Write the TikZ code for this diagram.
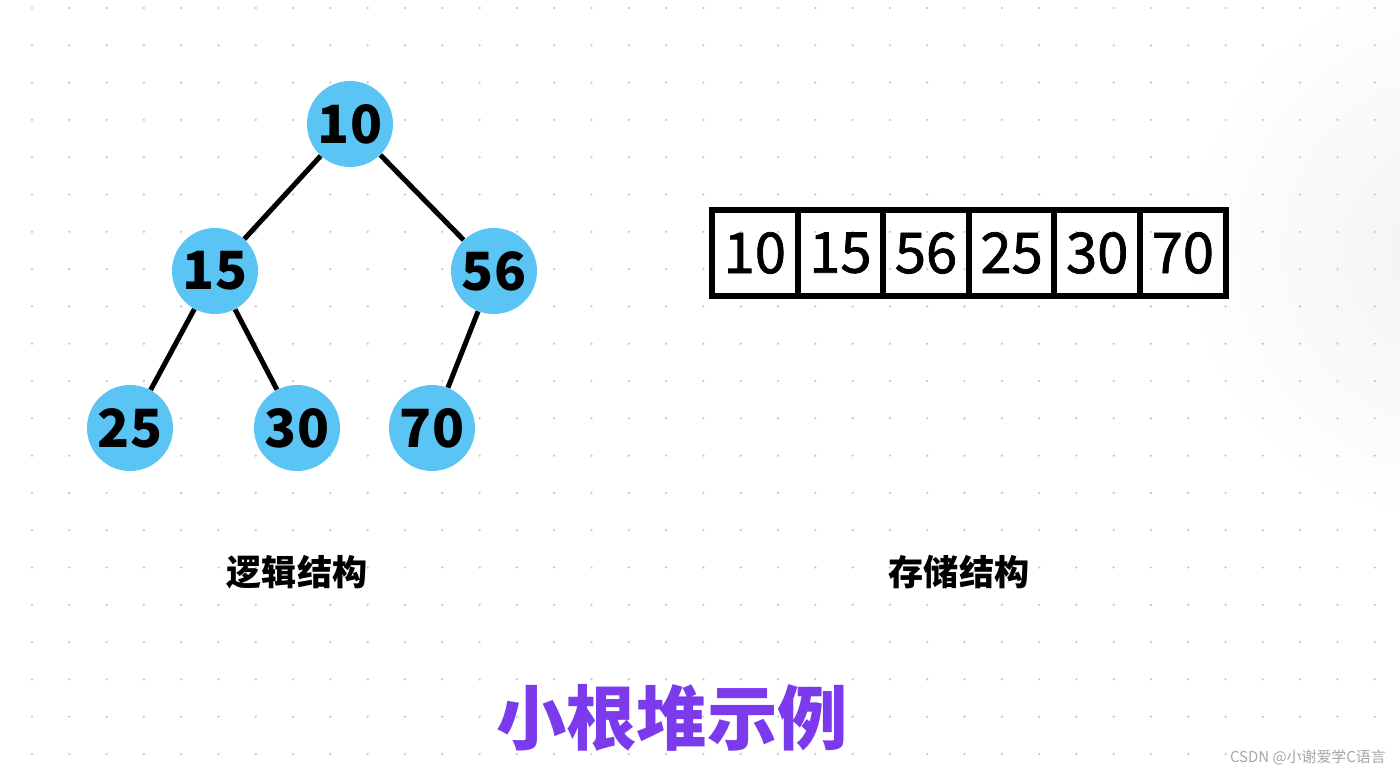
\documentclass[tikz,border=0pt]{standalone}
\usepackage{fontspec}
\setmainfont{Noto Sans CJK SC}
\newfontfamily\midfont[FakeBold=1.3]{Noto Sans CJK SC}
\usetikzlibrary{positioning}
\definecolor{heapblue}{RGB}{90,196,245}
\definecolor{titlepurple}{RGB}{124,58,237}
\tikzset{
  heapnode/.style={circle,fill=heapblue,minimum size=1.72cm,inner sep=0pt,font=\bfseries\fontsize{30}{30}\selectfont},
  heapedge/.style={line width=0.1cm},
  cell/.style={draw,line width=0.12cm,minimum width=1.712cm,minimum height=1.72cm,inner sep=0pt,font=\midfont\fontsize{32}{32}\selectfont},
  caption/.style={font=\bfseries\fontsize{20}{20}\selectfont}
}
\begin{document}
\begin{tikzpicture}[x=0.02cm,y=-0.02cm]
\useasboundingbox[fill=white] (0,0) rectangle (1400,773);
\begin{scope}
  \clip (0,0) rectangle (1400,773);
  \shade[inner color=black!5,outer color=white] (1460,250) circle (280);
\end{scope}
\foreach \i in {0,...,36}
  \foreach \j in {0,...,20}
    \fill[gray!45] (32+37.3*\i,8+37.3*\j) circle (0.7pt);
% logical structure
\node[heapnode] (n10) at (350,124) {10};
\node[heapnode] (n15) at (215,271) {15};
\node[heapnode] (n56) at (494,271) {56};
\node[heapnode] (n25) at (130,428) {25};
\node[heapnode] (n30) at (297,428) {30};
\node[heapnode] (n70) at (432,428) {70};
\draw[heapedge] (n10)--(n15) (n10)--(n56) (n15)--(n25) (n15)--(n30) (n56)--(n70);
% storage structure
\foreach \v [count=\k from 0] in {10,15,56,25,30,70}
  \node[cell] (a\k) at (754.8+85.6*\k,253) {\v};
\node[caption] (logic) at (297,572) {逻辑结构};
\node[caption] (storage) at (959,572) {存储结构};
\node[font=\bfseries\fontsize{40}{40}\selectfont,text=titlepurple] (title) at (672,718) {小根堆示例};
\node[font=\fontsize{8.5}{8.5}\selectfont,text=gray!70,anchor=east] (mark) at (1392,757) {CSDN @小谢爱学C语言};
\end{tikzpicture}
\end{document}
